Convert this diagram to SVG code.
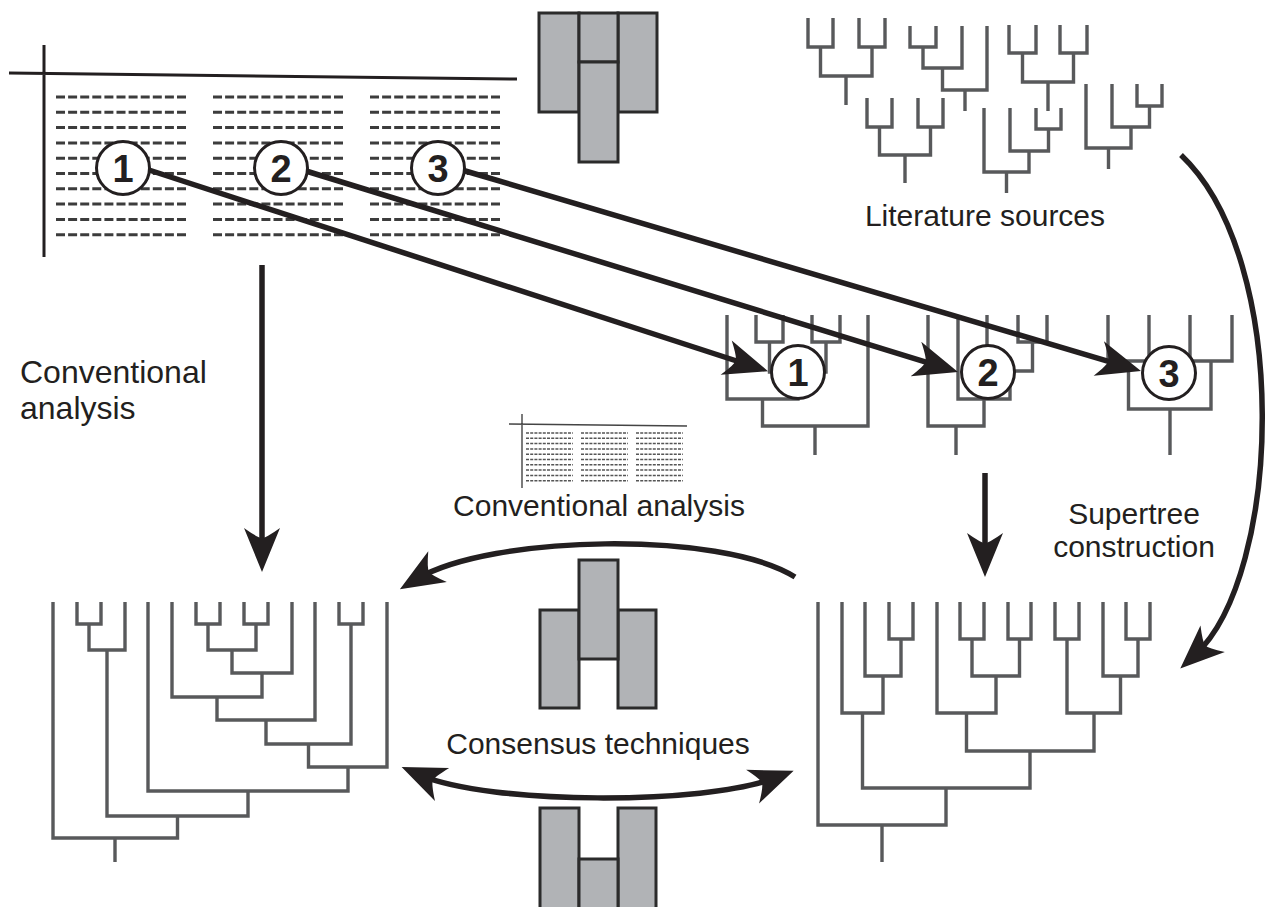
<svg xmlns="http://www.w3.org/2000/svg" width="1287" height="907" viewBox="0 0 1287 907">
<style>
.tree{fill:none;stroke:#58595b;stroke-width:3.4;stroke-linejoin:miter;stroke-linecap:butt}
.axis{fill:none;stroke:#231f20;stroke-width:3}
.dash{fill:none;stroke:#3c3c3c;stroke-width:3;stroke-dasharray:9 3.1}
.sdash{fill:none;stroke:#555;stroke-width:1.5;stroke-dasharray:3 1.2}
.saxis{fill:none;stroke:#444;stroke-width:1.4}
.blk{fill:#b1b3b6;stroke:#2b2b2b;stroke-width:3}
.arr{fill:none;stroke:#231f20;stroke-width:5.5}
.lbl{font-family:"Liberation Sans",Arial,sans-serif;font-size:30px;fill:#231f20}
.num{font-family:"Liberation Sans",Arial,sans-serif;font-size:38px;font-weight:bold;fill:#231f20;text-anchor:middle}
.circ{fill:#fff;stroke:#231f20;stroke-width:3}
</style>
<defs>
<marker id="ah" viewBox="-26 -20 50 40" refX="0" refY="0" markerWidth="50" markerHeight="40" markerUnits="userSpaceOnUse" orient="auto">
<path d="M20,0 L-24,-18 Q-14,-4 -14,0 Q-14,4 -24,18 Z" fill="#231f20"/>
</marker>
<marker id="ahs" viewBox="-24 -20 50 40" refX="0" refY="0" markerWidth="50" markerHeight="40" markerUnits="userSpaceOnUse" orient="auto">
<path d="M-20,0 L24,-18 Q14,-4 14,0 Q14,4 24,18 Z" fill="#231f20"/>
</marker>
</defs>
<rect width="1287" height="907" fill="#fff"/>

<g id="matrix-main">
<path class="axis" d="M44,45 V257 M9,73 L517,79"/>
<g class="dash">
<path d="M56,97 H187 M56,112.3 H187 M56,127.6 H187 M56,142.9 H187 M56,158.2 H187 M56,173.5 H187 M56,188.8 H187 M56,204.1 H187 M56,219.4 H187 M56,234.7 H187"/>
<path d="M213,97 H344 M213,112.3 H344 M213,127.6 H344 M213,142.9 H344 M213,158.2 H344 M213,173.5 H344 M213,188.8 H344 M213,204.1 H344 M213,219.4 H344 M213,234.7 H344"/>
<path d="M370,97 H501 M370,112.3 H501 M370,127.6 H501 M370,142.9 H501 M370,158.2 H501 M370,173.5 H501 M370,188.8 H501 M370,204.1 H501 M370,219.4 H501 M370,234.7 H501"/>
</g>
</g>

<g id="blocks-top">
<rect class="blk" x="539" y="13" width="40" height="99"/>
<rect class="blk" x="618" y="13" width="39" height="99"/>
<rect class="blk" x="579" y="13" width="39" height="49"/>
<rect class="blk" x="579" y="62" width="39" height="100"/>
</g>

<g id="literature-trees" class="tree">
<path d="M808,18 V47 H833 V18 M859,18 V47 H885 V18 M820.5,47 V76 H872 V47 M846,76 V105"/>
<path d="M910,26 V47 H936 V26 M923,47 V68 H962 V26 M942.5,68 V90 H987 V26 M965,90 V111"/>
<path d="M1009,25 V53 H1036 V25 M1060,25 V53 H1087 V25 M1022.5,53 V82 H1073.5 V53 M1048,82 V111"/>
<path d="M867,98 V127 H892 V98 M918,98 V127 H943 V98 M879.5,127 V155 H930.5 V127 M905,155 V183"/>
<path d="M1036,108 V129 H1061 V108 M1010,108 V151 H1048.5 V129 M984,108 V172 H1029 V151 M1006.5,172 V193"/>
<path d="M1137,84 V106 H1162 V84 M1112,84 V127 H1149.5 V106 M1086,84 V148 H1131 V127 M1108.5,148 V169"/>
</g>
<g id="label-literature"><text class="lbl" x="985" y="226" text-anchor="middle">Literature sources</text></g>

<g id="tree-1" class="tree">
<path d="M756,315 V342 H783 V315 M812,315 V342 H840 V315 M769.5,342 V372 H826 V342 M727,315 V399 H798 V372 M762.5,399 V426 H868 V315 M815,426 V455"/>
</g>
<g id="tree-2" class="tree">
<path d="M1018,315 V342 H1047 V315 M987,315 V371 H1032.5 V342 M958,315 V399 H1010 V371 M928,315 V426 H984 V399 M956,426 V455"/>
</g>
<g id="tree-3" class="tree">
<path d="M1108,315 V361 H1149 V315 M1190,315 V361 H1232 V315 M1128.5,361 V409 H1211 V361 M1170,409 V455"/>
</g>

<g id="label-conv-left">
<text class="lbl" x="20" y="383" style="font-size:32px">Conventional</text>
<text class="lbl" x="20" y="419" style="font-size:32px">analysis</text>
</g>

<g id="matrix-small">
<path class="saxis" d="M522,414 V488 M509,424 L687,426"/>
<g class="sdash">
<path d="M526,433 H573 M526,438.3 H573 M526,443.6 H573 M526,448.9 H573 M526,454.2 H573 M526,459.5 H573 M526,464.8 H573 M526,470.1 H573 M526,475.4 H573 M526,480.7 H573"/>
<path d="M581,433 H628 M581,438.3 H628 M581,443.6 H628 M581,448.9 H628 M581,454.2 H628 M581,459.5 H628 M581,464.8 H628 M581,470.1 H628 M581,475.4 H628 M581,480.7 H628"/>
<path d="M636,433 H683 M636,438.3 H683 M636,443.6 H683 M636,448.9 H683 M636,454.2 H683 M636,459.5 H683 M636,464.8 H683 M636,470.1 H683 M636,475.4 H683 M636,480.7 H683"/>
</g>
</g>
<g id="label-conv-mid"><text class="lbl" x="599" y="516" text-anchor="middle">Conventional analysis</text></g>
<g id="label-supertree">
<text class="lbl" x="1134" y="524" text-anchor="middle">Supertree</text>
<text class="lbl" x="1134" y="557" text-anchor="middle">construction</text>
</g>

<g id="blocks-mid">
<rect class="blk" x="540" y="610" width="39" height="98"/>
<rect class="blk" x="618" y="610" width="38" height="98"/>
<rect class="blk" x="579" y="560" width="39" height="99"/>
</g>
<g id="label-consensus"><text class="lbl" x="598" y="754" text-anchor="middle">Consensus techniques</text></g>

<g id="blocks-bottom">
<rect class="blk" x="540" y="808" width="39" height="110"/>
<rect class="blk" x="618" y="808" width="38" height="110"/>
<rect class="blk" x="579" y="859" width="39" height="60"/>
</g>

<g id="tree-conventional" class="tree">
<path d="M77,602 V624 H101 V602 M89,624 V650 H125 V602 M196,602 V624 H220 V602 M244,602 V624 H268 V602 M208,624 V650 H256 V624 M232,650 V673 H292 V602 M172,602 V697 H262 V673 M217,697 V720 H315 V602 M339,602 V624 H363 V602 M266,720 V744 H351 V624 M308.5,744 V767 H387 V602 M148,602 V791 H348 V767 M107,650 V816 H248 V791 M53,602 V838 H177.5 V816 M115,838 V862"/>
</g>

<g id="tree-supertree" class="tree">
<path d="M889,602 V639 H913 V602 M865,602 V676 H901 V639 M842,602 V713 H883 V676 M960,602 V639 H984 V602 M1008,602 V639 H1031 V602 M972,639 V676 H1019.5 V639 M937,602 V713 H996 V676 M1055,602 V639 H1079 V602 M1126,602 V639 H1150 V602 M1103,602 V676 H1138 V639 M1067,639 V713 H1120.5 V676 M966.5,713 V751 H1094 V713 M862.5,713 V788 H1030 V751 M818,602 V825 H946 V788 M882,825 V862"/>
</g>

<g id="connectors">
<path class="arr" d="M149,170 L749,365" marker-end="url(#ah)"/>
<path class="arr" d="M306,171 L938.9,366.1" marker-end="url(#ah)"/>
<path class="arr" d="M462,170 L1121.8,365.3" marker-end="url(#ah)"/>
<path class="arr" d="M262,265 V552" marker-end="url(#ah)"/>
<path class="arr" d="M985,473 V557" marker-end="url(#ah)"/>
<path class="arr" d="M1181,155 C1292,260 1282,575 1195,655" marker-end="url(#ah)"/>
<path class="arr" d="M795,577 C720,530 490,535 417,579" marker-end="url(#ah)"/>
<path class="arr" d="M420,775 C490,805 705,805 775,778" marker-start="url(#ahs)" marker-end="url(#ah)"/>
</g>

<g id="circle-top-1"><circle class="circ" cx="123" cy="168" r="26.5"/><text class="num" x="123" y="182">1</text></g>
<g id="circle-top-2"><circle class="circ" cx="281" cy="168" r="26.5"/><text class="num" x="281" y="182">2</text></g>
<g id="circle-top-3"><circle class="circ" cx="438" cy="168" r="26.5"/><text class="num" x="438" y="182">3</text></g>
<g id="circle-mid-1"><circle class="circ" cx="798" cy="372" r="26.5"/><text class="num" x="798" y="386">1</text></g>
<g id="circle-mid-2"><circle class="circ" cx="988" cy="372" r="26.5"/><text class="num" x="988" y="386">2</text></g>
<g id="circle-mid-3"><circle class="circ" cx="1169" cy="373" r="26.5"/><text class="num" x="1169" y="387">3</text></g>
</svg>
